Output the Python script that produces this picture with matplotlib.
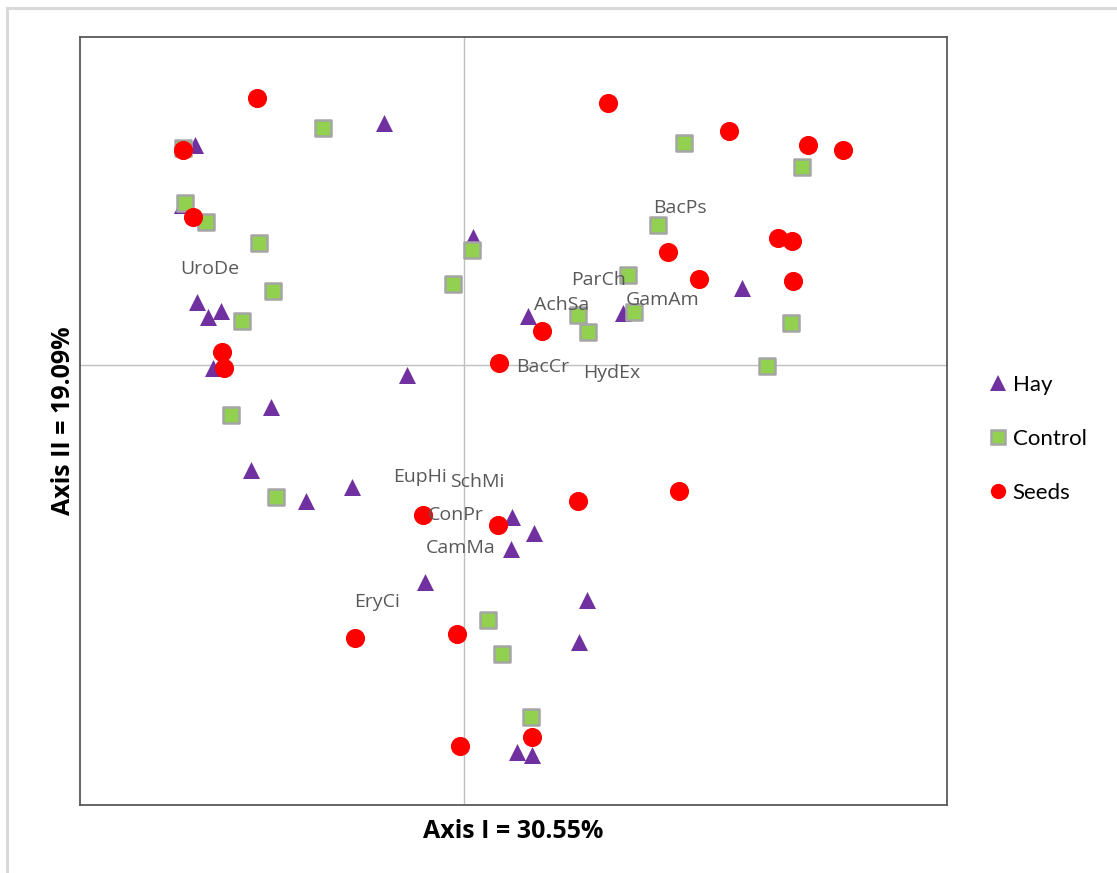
import matplotlib
matplotlib.use("Agg")
import matplotlib.pyplot as plt
from matplotlib.lines import Line2D

# ---- data (ordination scores) ----
hay_x = [-2.69, -0.80, -2.82, 0.09, -2.67, -2.56, -2.43, -2.51, -0.57, 0.64, 1.59, 2.78,
         -1.93, -2.13, -1.58, -1.12, 0.48, 0.70, 0.47, -0.39, 1.23, 1.15, 0.53, 0.68]
hay_y = [2.20, 2.42, 1.60, 1.28, 0.63, 0.48, 0.54, -0.03, -0.10, 0.49, 0.52, 0.77,
         -0.42, -1.05, -1.36, -1.22, -1.52, -1.68, -1.84, -2.17, -2.35, -2.77, -3.87, -3.90]

control_x = [-2.81, -1.41, -2.79, -2.58, -2.05, 0.08, -0.11, -1.91, -2.22, 2.20, 3.38, 1.94,
             1.64, 1.14, 1.24, 1.70, 3.27, 3.03, -2.33, -1.88, 0.24, 0.38, 0.67]
control_y = [2.17, 2.37, 1.62, 1.43, 1.22, 1.15, 0.81, 0.74, 0.44, 2.22, 1.98, 1.40,
             0.90, 0.50, 0.33, 0.53, 0.42, -0.01, -0.50, -1.32, -2.55, -2.89, -3.52]

seeds_x = [-2.07, -2.81, -2.71, -2.42, -2.40, 1.44, 2.65, 3.44, 3.79, 2.04, 3.14, 3.28,
           2.35, 3.29, 0.78, 0.35, -0.41, 0.34, 1.14, 2.15, -1.09, -0.07, 0.68, -0.04]
seeds_y = [2.67, 2.15, 1.48, 0.13, -0.03, 2.62, 2.34, 2.20, 2.15, 1.13, 1.27, 1.24,
           0.86, 0.84, 0.34, 0.02, -1.50, -1.60, -1.36, -1.26, -2.73, -2.69, -3.72, -3.81]

species = ["UroDe", "BacPs", "ParCh", "AchSa", "GamAm", "BacCr", "HydEx",
           "EupHi", "SchMi", "ConPr", "CamMa", "EryCi"]
species_x = [-2.84, 1.89, 1.07, 0.70, 1.62, 0.52, 1.19, -0.71, -0.14, -0.36, -0.38, -1.10]
species_y = [0.96, 1.57, 0.85, 0.60, 0.65, -0.02, -0.08, -1.12, -1.17, -1.50, -1.83, -2.37]

x_label = "Axis I = 30.55%"
y_label = "Axis II = 19.09%"

# ---- figure ----
W, H = 1117, 873
fig = plt.figure(figsize=(W / 100, H / 100), dpi=100)
ax = fig.add_axes([80 / W, 1 - 805 / H, (947 - 80) / W, (805 - 37) / H])

ax.set_xlim(-3.84, 4.83)
ax.set_ylim(-4.40, 3.28)
ax.axvline(0, color="#BFBFBF", lw=1.0, zorder=1)
ax.axhline(0, color="#BFBFBF", lw=1.0, zorder=1)
ax.set_xticks([])
ax.set_yticks([])
for s in ax.spines.values():
    s.set_color("#595959")
    s.set_linewidth(1.3)

ax.scatter(hay_x, hay_y, marker="^", s=150, color="#7030A0", linewidths=0, zorder=3, label="Hay")
ax.scatter(control_x, control_y, marker="s", s=120, facecolor="#92D050", edgecolor="#A5A5A5",
           linewidths=1.8, zorder=4, label="Control")
ax.scatter(seeds_x, seeds_y, marker="o", s=190, color="#FF0000", linewidths=0, zorder=5, label="Seeds")

for name, x, y in zip(species, species_x, species_y):
    ax.text(x, y, name, ha="left", va="center", fontsize=14, color="#595959",
            family="Open Sans", zorder=6)

ax.set_xlabel(x_label, fontsize=18, fontweight="bold", family="Open Sans", labelpad=10)
ax.set_ylabel(y_label, fontsize=18, fontweight="bold", family="Open Sans", labelpad=3)

handles = [
    Line2D([], [], marker="^", ls="none", markersize=11, color="#7030A0", markeredgewidth=0),
    Line2D([], [], marker="s", ls="none", markersize=9.5, markerfacecolor="#92D050",
           markeredgecolor="#A5A5A5", markeredgewidth=1.8),
    Line2D([], [], marker="o", ls="none", markersize=11, color="#FF0000", markeredgewidth=0),
]
fig.legend(handles, ["Hay", "Control", "Seeds"], loc="upper left",
           bbox_to_anchor=(976 / W, 1 - 364 / H), frameon=False,
           prop={"family": "Lato", "size": 16}, labelspacing=1.52,
           handletextpad=0.15, handlelength=1.0, borderpad=0)

# outer chart border (top and left visible)
fig.add_artist(Line2D([7 / W, 7 / W], [0, 1 - 8 / H], color="#D9D9D9", lw=2.2,
                      transform=fig.transFigure))
fig.add_artist(Line2D([7 / W, 1], [1 - 8 / H, 1 - 8 / H], color="#D9D9D9", lw=2.2,
                      transform=fig.transFigure))

fig.savefig("out.png", dpi=100, facecolor="white")
